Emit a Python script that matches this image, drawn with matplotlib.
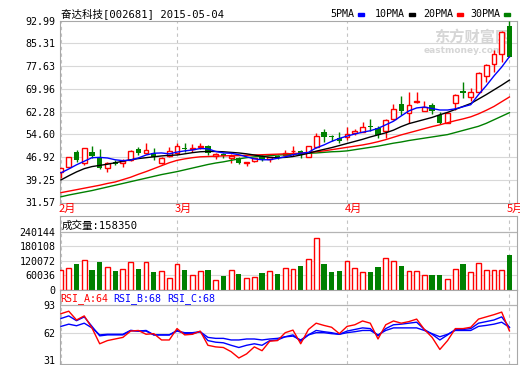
import numpy as np
import matplotlib
matplotlib.use("Agg")
import matplotlib.pyplot as plt
import matplotlib.transforms as mtransforms

plt.rcParams['font.family'] = ['DejaVu Sans Mono', 'Noto Sans CJK SC']

# daily candles, 2015-02-02 .. 2015-05-04
opens = [41.8, 43.7, 48.5, 44.8, 48.7, 46.8, 43.1, 45.3, 44.8, 45.9,
         49.6, 48.2, 48.4, 44.8, 47.3, 48.4, 50.1, 49.5, 50.3, 50.6,
         47.4, 47.9, 46.5, 46.7, 44.9, 45.6, 46.9, 46.3, 47.2, 47.6,
         48.8, 49.0, 47.0, 50.4, 55.3, 54.0, 53.3, 53.8, 55.2, 55.5,
         57.5, 56.6, 55.7, 59.7, 64.8, 61.9, 65.6, 62.6, 64.4, 61.1,
         58.5, 65.1, 69.3, 67.3, 69.0, 74.3, 78.2, 81.7, 91.2]
closes = [43.1, 46.8, 45.9, 49.9, 47.4, 43.1, 45.0, 44.7, 45.6, 49.0,
          48.2, 49.3, 47.0, 46.7, 49.0, 50.6, 49.5, 50.0, 50.6, 48.2,
          47.8, 47.4, 47.3, 45.0, 45.2, 46.5, 46.3, 46.8, 46.6, 48.4,
          49.1, 47.6, 50.5, 54.0, 53.6, 53.6, 52.3, 54.7, 55.6, 57.0,
          57.0, 54.4, 59.4, 63.0, 62.5, 64.5, 65.8, 63.9, 62.6, 58.3,
          61.9, 67.9, 68.4, 68.8, 75.2, 78.0, 81.6, 89.2, 80.8]
highs = [43.3, 47.0, 49.3, 50.1, 50.6, 49.5, 45.3, 45.8, 46.2, 49.3,
         50.3, 51.8, 49.9, 47.0, 50.4, 51.6, 51.8, 51.2, 51.7, 50.9,
         48.2, 48.3, 47.9, 47.0, 45.4, 46.7, 47.5, 47.1, 47.6, 49.2,
         50.5, 49.3, 50.8, 55.1, 56.4, 54.5, 55.3, 57.2, 56.4, 58.9,
         59.6, 57.4, 59.7, 64.7, 67.5, 69.0, 68.9, 65.8, 65.0, 62.2,
         62.2, 68.2, 72.4, 70.4, 75.5, 78.2, 83.1, 89.4, 92.99]
lows = [39.9, 43.5, 45.3, 44.2, 46.7, 43.0, 42.0, 44.1, 43.5, 45.7,
        47.6, 47.9, 45.9, 44.6, 47.0, 47.9, 48.7, 48.7, 49.6, 47.6,
        46.2, 46.5, 45.0, 44.6, 44.0, 45.4, 45.6, 45.3, 46.4, 47.4,
        47.3, 46.5, 46.8, 50.0, 52.0, 52.4, 51.7, 52.7, 54.4, 55.4,
        55.6, 53.3, 53.2, 59.5, 61.0, 58.3, 65.3, 62.4, 61.5, 58.1,
        58.3, 62.9, 66.7, 65.9, 68.8, 72.4, 75.8, 79.0, 80.6]

ma5 = [41.6, 42.9, 44.3, 45.5, 46.7, 46.8, 46.6, 46.0, 45.7, 45.9,
       46.6, 47.6, 48.2, 48.3, 48.0, 48.6, 49.0, 49.3, 49.8, 49.7,
       48.8, 48.3, 48.2, 47.7, 47.0, 46.3, 46.0, 46.0, 46.5, 47.0,
       47.7, 48.2, 48.5, 50.0, 51.0, 52.2, 53.2, 54.0, 54.7, 55.3,
       55.8, 56.6, 57.8, 59.0, 60.8, 62.5, 63.5, 63.8, 63.3, 62.8,
       62.8, 63.2, 63.9, 64.6, 68.0, 71.0, 74.3, 77.3, 80.8]
ma10 = [39.2, 40.6, 41.9, 43.0, 43.7, 44.1, 44.5, 45.0, 45.5, 46.0,
        46.4, 46.7, 47.0, 47.3, 47.5, 47.6, 48.0, 48.4, 48.7, 48.8,
        48.8, 48.7, 48.5, 48.3, 48.0, 47.6, 47.2, 46.8, 46.7, 46.8,
        47.1, 47.6, 48.2, 48.9, 49.5, 50.1, 50.8, 51.5, 52.2, 52.9,
        53.7, 54.4, 55.1, 56.0, 57.2, 58.2, 58.9, 59.6, 60.3, 61.2,
        62.0, 63.0, 64.0, 65.0, 66.5, 68.0, 69.6, 71.2, 72.9]
ma20 = [34.9, 35.4, 35.9, 36.4, 36.9, 37.4, 38.0, 38.5, 39.3, 40.1,
        41.1, 42.0, 43.0, 44.0, 45.0, 45.8, 46.3, 46.7, 47.0, 47.1,
        47.2, 47.3, 47.4, 47.4, 47.5, 47.6, 47.7, 47.8, 47.9, 48.0,
        48.1, 48.2, 48.4, 48.7, 49.0, 49.4, 49.8, 50.2, 50.6, 51.0,
        51.5, 52.1, 52.8, 53.6, 54.4, 55.1, 55.8, 56.5, 57.2, 57.8,
        58.5, 59.2, 59.8, 60.5, 61.5, 62.7, 64.0, 65.6, 67.2]
ma30 = [33.5, 34.1, 34.6, 35.1, 35.6, 36.2, 36.8, 37.4, 38.0, 38.6,
        39.2, 39.8, 40.4, 41.0, 41.5, 42.0, 42.6, 43.2, 43.8, 44.4,
        44.9, 45.3, 45.8, 46.3, 46.7, 47.0, 47.2, 47.4, 47.6, 47.7,
        47.9, 48.0, 48.2, 48.3, 48.5, 48.7, 48.8, 49.0, 49.4, 49.8,
        50.2, 50.6, 51.1, 51.6, 52.0, 52.5, 52.9, 53.3, 53.7, 54.1,
        54.5, 55.2, 55.9, 56.6, 57.3, 58.3, 59.5, 60.7, 61.9]

volume = [79600, 90700, 104700, 124000, 79600, 113000, 95000, 75000, 86500, 113000,
          84000, 113000, 71000, 75000, 46000, 104700, 79600, 61000, 75000, 79600,
          40500, 54400, 79600, 63000, 46000, 53000, 67000, 78000, 63000, 90700,
          86500, 96000, 128000, 212000, 104700, 71000, 75000, 120000, 90700, 71000,
          71000, 92000, 132600, 120000, 96000, 75000, 75000, 61000, 58600, 58600,
          44700, 86500, 104700, 71000, 109000, 82000, 79600, 79600, 142000]

rsi_a = [83.4, 86.2, 76.3, 80.9, 67.3, 49.5, 53.1, 54.9, 56.7, 63.8,
         64.5, 60.2, 60.9, 53.8, 53.8, 66.6, 59.5, 60.2, 63.8, 47.8,
         46.0, 45.3, 40.6, 33.5, 38.1, 46.0, 41.7, 52.4, 53.1, 62.0,
         64.9, 49.5, 65.6, 72.7, 70.2, 68.1, 60.9, 69.1, 70.9, 75.2,
         72.7, 54.9, 70.9, 75.2, 72.7, 74.5, 77.3, 65.6, 56.7, 43.1,
         53.1, 66.6, 66.6, 68.1, 77.3, 79.8, 82.3, 85.2, 64.0]
rsi_b = [78.0, 80.9, 75.5, 79.8, 69.1, 58.4, 59.5, 59.5, 59.5, 64.5,
         63.8, 63.8, 59.5, 59.5, 59.5, 64.5, 60.9, 60.9, 63.1, 53.1,
         51.3, 50.6, 47.8, 45.3, 47.8, 49.5, 47.8, 53.1, 53.8, 57.4,
         59.5, 52.4, 59.5, 64.5, 63.1, 62.0, 60.2, 63.8, 65.6, 67.4,
         66.6, 58.4, 66.6, 70.9, 71.6, 72.7, 73.8, 65.6, 60.2, 53.8,
         59.5, 65.6, 65.6, 66.6, 72.7, 74.5, 76.3, 79.8, 68.0]
rsi_c = [69.1, 71.6, 69.8, 72.7, 67.4, 59.5, 60.2, 60.2, 60.2, 64.5,
         63.8, 64.5, 59.5, 59.5, 59.5, 63.8, 62.0, 62.0, 63.1, 56.7,
         55.6, 55.6, 53.8, 53.8, 54.9, 54.9, 53.8, 54.9, 55.6, 57.4,
         58.1, 53.8, 59.5, 62.0, 62.0, 60.9, 60.2, 62.0, 63.1, 64.5,
         64.5, 59.5, 64.5, 67.4, 67.4, 67.4, 67.4, 64.5, 60.9, 57.4,
         60.2, 64.5, 64.5, 64.5, 69.1, 70.2, 71.6, 73.8, 68.0]

price_ticks = ["31.57", "39.25", "46.92", "54.60", "62.28", "69.96", "77.63", "85.31", "92.99"]
vol_ticks = [0, 60036, 120072, 180108, 240144]
rsi_ticks = [31, 62, 93]
months = ["2月", "3月", "4月", "5月"]
month_start = [0, 15, 37, 58]

RED = "#ff0000"
GREEN = "#008000"
BLUE = "#0000ff"
GRID = "#d8d8d8"
FRAME = "#a8a8a8"

W, H = 520, 365
fig = plt.figure(figsize=(W / 100, H / 100), dpi=100)


def panel(top, bottom, left=59.5, right=517):
    return fig.add_axes([left / W, 1 - bottom / H, (right - left) / W, (bottom - top) / H])


n = len(closes)
idx = np.arange(n)
o = np.array(opens)
c = np.array(closes)
up = c >= o
xlim = (-0.2, n - 1 + 0.98)


def style(ax):
    ax.set_xlim(*xlim)
    ax.set_xticks([])
    for s in ax.spines.values():
        s.set_color(FRAME)
    ax.tick_params(axis="y", length=0, labelsize=7.2, pad=3)
    for m in month_start:
        ax.axvline(m, color="#c4c4c4", lw=0.8, ls=(0, (3, 3)), zorder=0)


# price panel
ax = panel(20.6, 202.5)
style(ax)
pt = [float(t) for t in price_ticks]
ax.set_ylim(pt[0], pt[-1])
ax.set_yticks(pt, price_ticks)
for v in pt[1:-1]:
    ax.axhline(v, color=GRID, lw=0.8, zorder=0)

bb = np.minimum(o, c)
bt = np.maximum(o, c)
hh = np.maximum(bt - bb, 0.18)
ax.vlines(idx[up], np.array(lows)[up], bb[up], color=RED, lw=1, zorder=3)
ax.vlines(idx[up], bt[up], np.array(highs)[up], color=RED, lw=1, zorder=3)
ax.vlines(idx[~up], np.array(lows)[~up], np.array(highs)[~up], color=GREEN, lw=1, zorder=3)
ax.bar(idx[up], hh[up], bottom=bb[up], width=0.62, facecolor="white",
       edgecolor=RED, lw=1, zorder=3)
ax.bar(idx[~up], hh[~up], bottom=bb[~up], width=0.68, color=GREEN, lw=0, zorder=3)

ax.plot(idx, ma30, color=GREEN, lw=1, zorder=4)
ax.plot(idx, ma20, color=RED, lw=1, zorder=4)
ax.plot(idx, ma10, color="black", lw=1, zorder=4)
ax.plot(idx, ma5, color=BLUE, lw=1, zorder=4)

# watermark
ax.text(0.985, 0.955, "东方财富网", transform=ax.transAxes, ha="right", va="top",
        fontsize=11, color="#d6d6d6", fontweight="bold", family="Noto Sans CJK SC", zorder=1)
ax.text(0.97, 0.86, "eastmoney.com", transform=ax.transAxes, ha="right", va="top",
        fontsize=6.5, color="#d6d6d6", fontweight="bold", family="DejaVu Sans", zorder=1)

fig.text(61 / W, 1 - 13.5 / H, "奋达科技[002681] 2015-05-04", ha="left", va="center",
         fontsize=7.6)
legend = [("5PMA", BLUE, 330), ("10PMA", "black", 375), ("20PMA", RED, 423), ("30PMA", GREEN, 470)]
for label, col, x0 in legend:
    fig.text(x0 / W, 1 - 14 / H, label, ha="left", va="center", fontsize=7.2)
    fig.patches.append(plt.Rectangle(((x0 + 6.2 * len(label) + 3) / W, 1 - 15.5 / H),
                                     6 / W, 3 / H, transform=fig.transFigure,
                                     color=col, figure=fig))

# month labels under the price panel (the last one runs off the edge, as in the original)
blend = mtransforms.blended_transform_factory(ax.transData, ax.transAxes)
for m, name in zip(month_start, months):
    ax.text(m - 0.3, -0.005, name, transform=blend, ha="left", va="top",
            fontsize=8, color=RED, family="Noto Sans CJK SC", clip_on=False)

# volume panel
axv = panel(216, 289.5)
style(axv)
vtop = vol_ticks[-1] * (289.5 - 216) / (289.5 - 231.7)
axv.set_ylim(0, vtop)
axv.set_yticks(vol_ticks, [str(v) for v in vol_ticks])
for v in vol_ticks[1:-1]:
    axv.axhline(v, color=GRID, lw=0.8, zorder=0)
axv.axhline(vol_ticks[-1], color="#b4b4b4", lw=0.9, zorder=0)
vol = np.array(volume)
axv.bar(idx[up], vol[up], width=0.62, facecolor="white", edgecolor=RED, lw=1, zorder=3)
axv.bar(idx[~up], vol[~up], width=0.68, color=GREEN, lw=0, zorder=3)
axv.text(0.004, 0.87, "成交量:158350", transform=axv.transAxes, ha="left", va="center",
         fontsize=7.6)

# RSI panel
axr = panel(289.5, 364)
style(axr)
k = 31 / (335 - 306)
axr.set_ylim(31 - (364 - 360) * k, 93 + (306 - 289.5) * k)
axr.set_yticks(rsi_ticks, [str(t) for t in rsi_ticks])
axr.axhline(62, color=GRID, lw=0.8, zorder=0)
axr.axhline(93, color="#b4b4b4", lw=0.9, zorder=0)
axr.plot(idx, rsi_c, color=BLUE, lw=1, zorder=3)
axr.plot(idx, rsi_b, color=BLUE, lw=1, zorder=3)
axr.plot(idx, rsi_a, color=RED, lw=1, zorder=3)
for x0, txt, col in [(60, "RSI_A:64", RED), (113, "RSI_B:68", BLUE), (167, "RSI_C:68", BLUE)]:
    fig.text(x0 / W, 1 - 299 / H, txt, ha="left", va="center", fontsize=7.2, color=col)

fig.savefig("out.png", dpi=100)
